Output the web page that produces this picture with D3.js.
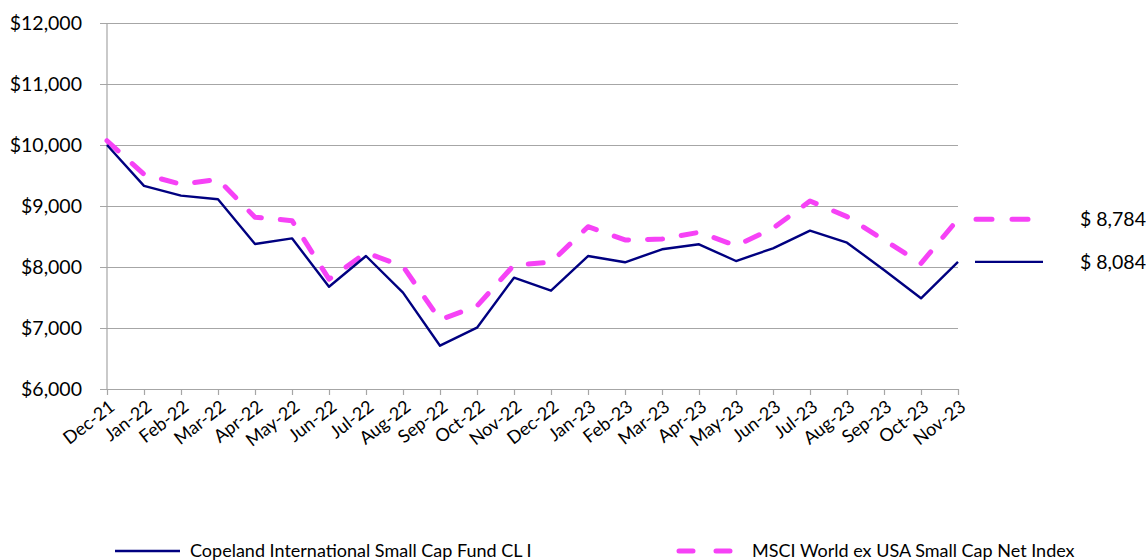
<!DOCTYPE html>
<html>
<head>
<meta charset="utf-8">
<script src="https://cdn.jsdelivr.net/npm/d3@7"></script>
<style>
  html, body { margin: 0; padding: 0; background: #fff; }
  svg { display: block; font-family: Lato, "Open Sans", sans-serif; }
</style>
</head>
<body>
<svg id="chart" width="1146" height="560"></svg>
<script>
const months = ["Dec-21","Jan-22","Feb-22","Mar-22","Apr-22","May-22","Jun-22","Jul-22","Aug-22","Sep-22","Oct-22","Nov-22","Dec-22","Jan-23","Feb-23","Mar-23","Apr-23","May-23","Jun-23","Jul-23","Aug-23","Sep-23","Oct-23","Nov-23"];
const fundValues = [10000, 9330, 9170, 9110, 8377, 8470, 7677, 8180, 7580, 6710, 7005, 7825, 7612, 8180, 8077, 8290, 8372, 8098, 8306, 8595, 8399, 7951, 7487, 8084];
const indexValues = [10070, 9520, 9356, 9437, 8815, 8760, 7800, 8235, 8010, 7135, 7360, 8033, 8077, 8661, 8443, 8459, 8569, 8350, 8634, 9082, 8825, 8443, 8060, 8784];
const yTicks = [6000, 7000, 8000, 9000, 10000, 11000, 12000];
const seriesNames = ["Copeland International Small Cap Fund CL I", "MSCI World ex USA Small Cap Net Index"];
const endLabels = ["$ 8,084", "$ 8,784"];

const NAVY = "#000080", PINK = "#f642f6", GRID = "#a6a6a6";
const svg = d3.select("#chart");
const x = d3.scalePoint().domain(months).range([107, 958]);
const y = d3.scaleLinear().domain([6000, 12000]).range([389, 23]);

// gridlines
const gy = svg.append("g").attr("transform", "translate(958,0)");
gy.call(d3.axisLeft(y).tickValues(yTicks).tickSize(958 - 100).tickFormat(""));
gy.select(".domain").remove();
gy.selectAll("line").attr("stroke", GRID).attr("stroke-width", 1.2);

// y labels
const gyl = svg.append("g").attr("transform", "translate(100,0)");
gyl.call(d3.axisLeft(y).tickValues(yTicks).tickSize(0).tickPadding(18).tickFormat(d => "$" + d3.format(",")(d)));
gyl.select(".domain").remove();
gyl.selectAll("text").attr("font-size", 19.5).attr("fill", "#000").attr("font-family", "Lato, sans-serif");

// y axis line
svg.append("line").attr("x1", 107).attr("x2", 107).attr("y1", 23).attr("y2", 389)
  .attr("stroke", GRID).attr("stroke-width", 1.2);

// x axis
const gx = svg.append("g").attr("transform", "translate(0,389)");
gx.call(d3.axisBottom(x).tickSize(6).tickSizeOuter(0).tickFormat(""));
gx.select(".domain").attr("stroke", GRID).attr("stroke-width", 1.2);
gx.selectAll("line").attr("stroke", GRID).attr("stroke-width", 1.2);

svg.append("g").selectAll("text").data(months).join("text")
  .attr("transform", d => `translate(${x(d) + 5},${404}) rotate(-38)`)
  .attr("text-anchor", "end").attr("dy", "0.35em")
  .attr("font-size", 18).attr("fill", "#000").text(d => d);

// lines
const line = d3.line().x((d, i) => x(months[i])).y(d => y(d));
svg.append("path").datum(indexValues).attr("d", line).attr("fill", "none")
  .attr("stroke", PINK).attr("stroke-width", 5).attr("stroke-dasharray", "15,19")
  .attr("stroke-linecap", "round").attr("stroke-linejoin", "round");
svg.append("path").datum(fundValues).attr("d", line).attr("fill", "none")
  .attr("stroke", NAVY).attr("stroke-width", 2.4).attr("stroke-linejoin", "round");

// end markers and labels
const last = months.length - 1;
svg.append("line").attr("x1", 976).attr("x2", 1031)
  .attr("y1", y(indexValues[last])).attr("y2", y(indexValues[last]))
  .attr("stroke", PINK).attr("stroke-width", 5).attr("stroke-dasharray", "16,20").attr("stroke-linecap", "round");
svg.append("line").attr("x1", 975).attr("x2", 1043)
  .attr("y1", y(fundValues[last])).attr("y2", y(fundValues[last]))
  .attr("stroke", NAVY).attr("stroke-width", 2.4);
svg.append("text").attr("x", 1080).attr("y", y(indexValues[last])).attr("dy", "0.35em")
  .attr("font-size", 19.5).text(endLabels[1]);
svg.append("text").attr("x", 1080).attr("y", y(fundValues[last])).attr("dy", "0.35em")
  .attr("font-size", 19.5).text(endLabels[0]);

// legend
svg.append("line").attr("x1", 115).attr("x2", 180).attr("y1", 551).attr("y2", 551)
  .attr("stroke", NAVY).attr("stroke-width", 2.6);
svg.append("text").attr("x", 190).attr("y", 551).attr("dy", "0.35em").attr("font-size", 18).text(seriesNames[0]);
svg.append("line").attr("x1", 679).attr("x2", 731).attr("y1", 551).attr("y2", 551)
  .attr("stroke", PINK).attr("stroke-width", 5).attr("stroke-dasharray", "14,23").attr("stroke-linecap", "round");
svg.append("text").attr("x", 752).attr("y", 551).attr("dy", "0.35em").attr("font-size", 18).text(seriesNames[1]);
</script>
</body>
</html>
